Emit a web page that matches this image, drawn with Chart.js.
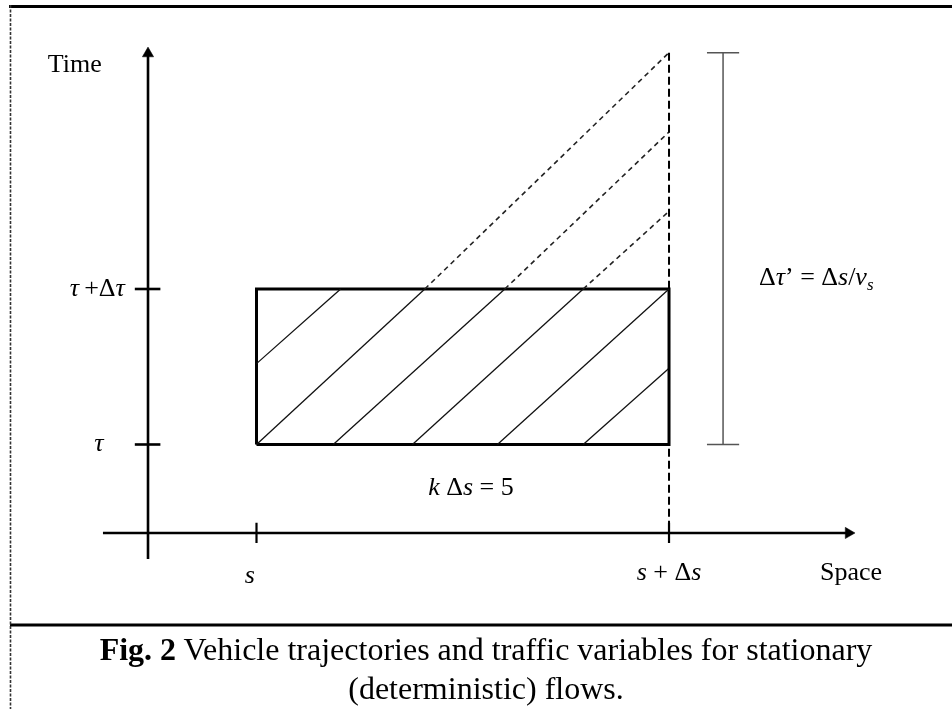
<!DOCTYPE html>
<html>
<head>
<meta charset="utf-8">
<script src="https://cdn.jsdelivr.net/npm/chart.js@4"></script>
<style>
  body { margin: 0; background: #fff; }
  #wrap { position: relative; width: 952px; height: 709px; overflow: hidden; }
  #chart { position: absolute; left: 0; top: 0; }
  .caption {
    position: absolute; left: 10px; width: 952px; text-align: center;
    font-family: 'Liberation Serif', 'Times New Roman', serif; font-size: 32px; line-height: 34px; color: #000;
    white-space: nowrap;
  }
</style>
</head>
<body>
<div id="wrap">
  <canvas id="chart" width="952" height="709"></canvas>
  <div class="caption" style="top: 632px;"><b>Fig. 2</b> Vehicle trajectories and traffic variables for stationary</div>
  <div class="caption" style="top: 671px;">(deterministic) flows.</div>
</div>
<script>
// space in vehicle spacings measured from s, time in units of Δτ measured from τ
const spaceTicks = [0, 5];
const spaceTickLabels = ['s', 's + Δs'];
const timeTicks = [0, 1];
const timeTickLabels = ['τ', 'τ+Δτ'];

// vehicle trajectories inside the cell (solid)
const trajStartX = [0, 0, 0.93, 1.89, 2.92, 3.96];
const trajStartT = [0.52, 0, 0, 0, 0, 0];
const trajEndX = [1.02, 2.04, 3.01, 3.96, 5, 5];
const trajEndT = [1, 1, 1, 1, 1, 0.49];

// continuation after the cell (dashed)
const ghostStartX = [2.04, 3.01, 3.96];
const ghostEndT = [2.52, 2.01, 1.5];

const travelTime = 2.52; // Δτ' = Δs / v_s

// frame of the drawing in data units
const xRange = [-3.109, 8.43];
const tRange = [-1.701, 2.8585];
const yAxisAt = -1.315;
const xAxisAt = -0.569;
const barAt = 5.655;

function seg(x1, y1, x2, y2) {
  return [{ x: x1, y: y1 }, { x: x2, y: y2 }];
}

function line(data, opts) {
  return Object.assign({
    data: data, showLine: true, pointRadius: 0, borderColor: '#000',
    borderWidth: 1.2, fill: false, tension: 0
  }, opts || {});
}

const datasets = [];

// axes with arrowheads
datasets.push(line(seg(yAxisAt, -0.736, yAxisAt, 2.514), {
  borderWidth: 2.6, pointRadius: [0, 6.5], pointStyle: 'triangle', rotation: 0,
  pointBackgroundColor: '#000', pointBorderColor: '#000', pointBorderWidth: 0.5
}));
datasets.push(line(seg(-1.861, xAxisAt, 7.176, xAxisAt), {
  borderWidth: 2.6, pointRadius: [0, 6.5], pointStyle: 'triangle', rotation: 90,
  pointBackgroundColor: '#000', pointBorderColor: '#000', pointBorderWidth: 0.5
}));

// ticks
timeTicks.forEach(t => datasets.push(line(seg(yAxisAt - 0.16, t, yAxisAt + 0.15, t), { borderWidth: 2.6 })));
spaceTicks.forEach(x => datasets.push(line(seg(x, xAxisAt + 0.065, x, xAxisAt - 0.065), { borderWidth: 2.2 })));

// dashed vertical at s + Δs
datasets.push(line(seg(spaceTicks[1], travelTime, spaceTicks[1], -0.627), {
  borderWidth: 2, borderDash: [8, 4]
}));

// dashed continuations
ghostStartX.forEach((x, i) => datasets.push(line(seg(x, timeTicks[1], spaceTicks[1], ghostEndT[i]), {
  borderWidth: 1.6, borderDash: [5, 4], borderColor: '#222'
})));

// trajectories inside the cell
trajStartX.forEach((x, i) => datasets.push(line(seg(x, trajStartT[i], trajEndX[i], trajEndT[i]), {
  borderWidth: 1.3, borderColor: '#111'
})));

// the space-time cell
datasets.push(line([
  { x: spaceTicks[0], y: timeTicks[0] }, { x: spaceTicks[1], y: timeTicks[0] },
  { x: spaceTicks[1], y: timeTicks[1] }, { x: spaceTicks[0], y: timeTicks[1] },
  { x: spaceTicks[0], y: timeTicks[0] }
], { borderWidth: 3, borderJoinStyle: 'miter' }));

// Δτ' bar
datasets.push(line(seg(barAt, 0, barAt, travelTime), { borderWidth: 1.5, borderColor: '#555' }));
datasets.push(line(seg(barAt - 0.195, 0, barAt + 0.195, 0), { borderWidth: 1.5, borderColor: '#555' }));
datasets.push(line(seg(barAt - 0.195, travelTime, barAt + 0.195, travelTime), { borderWidth: 1.5, borderColor: '#555' }));

const FONT = "'Liberation Serif', 'Times New Roman', serif";

function drawRuns(ctx, runs, px, py, align) {
  const fontOf = r => (r[1] === 'i' ? 'italic ' : '') + (r[1] === 'sub' ? 'italic 17px ' : '26px ') + FONT;
  let total = 0;
  runs.forEach(r => { ctx.font = fontOf(r); total += ctx.measureText(r[0]).width; });
  let x = align === 'center' ? px - total / 2 : align === 'right' ? px - total : px;
  runs.forEach(r => {
    ctx.font = fontOf(r);
    ctx.fillText(r[0], x, r[1] === 'sub' ? py + 7 : py);
    x += ctx.measureText(r[0]).width;
  });
}

const labels = [
  { runs: [['Time', 'n']], x: -2.53, t: 2.44, align: 'left' },
  { runs: [['τ', 'i'], ['\u2009+Δ', 'n'], ['τ', 'i']], x: -1.93, t: timeTicks[1], align: 'center' },
  { runs: [['τ', 'i']], x: -1.91, t: timeTicks[0], align: 'center' },
  { runs: [['s', 'i']], x: spaceTicks[0] - 0.08, t: -0.85, align: 'center' },
  { runs: [['s', 'i'], [' + Δ', 'n'], ['s', 'i']], x: spaceTicks[1], t: -0.83, align: 'center' },
  { runs: [['Space', 'n']], x: 6.83, t: -0.83, align: 'left' },
  { runs: [['k', 'i'], [' Δ', 'n'], ['s', 'i'], [' = 5', 'n']], x: 2.6, t: -0.28, align: 'center' },
  { runs: [['Δ', 'n'], ['τ', 'i'], ['’ = Δ', 'n'], ['s', 'i'], ['/', 'n'], ['v', 'i'], ['s', 'sub']], x: 6.09, t: 1.07, align: 'left' }
];

const annotate = {
  id: 'annotate',
  afterDatasetsDraw(chart) {
    const ctx = chart.ctx;
    const sx = chart.scales.x, sy = chart.scales.y;
    ctx.save();
    // frame
    ctx.strokeStyle = '#000';
    ctx.lineWidth = 3.2;
    ctx.beginPath();
    ctx.moveTo(9, 6.5); ctx.lineTo(952, 6.5);
    ctx.moveTo(10, 625); ctx.lineTo(952, 625);
    ctx.stroke();
    ctx.lineWidth = 1.6;
    ctx.strokeStyle = '#333';
    ctx.setLineDash([3, 1.5]);
    ctx.beginPath();
    ctx.moveTo(10.5, 5); ctx.lineTo(10.5, 709);
    ctx.stroke();
    ctx.setLineDash([]);
    // text
    ctx.fillStyle = '#000';
    ctx.textBaseline = 'middle';
    labels.forEach(l => drawRuns(ctx, l.runs, sx.getPixelForValue(l.x), sy.getPixelForValue(l.t), l.align));
    ctx.restore();
  }
};

new Chart(document.getElementById('chart'), {
  type: 'scatter',
  data: { datasets: datasets },
  options: {
    responsive: false,
    animation: false,
    devicePixelRatio: 1,
    layout: { padding: 0, autoPadding: false },
    plugins: { legend: { display: false }, tooltip: { enabled: false } },
    scales: {
      x: { type: 'linear', min: xRange[0], max: xRange[1], display: false },
      y: { type: 'linear', min: tRange[0], max: tRange[1], display: false }
    }
  },
  plugins: [annotate]
});
</script>
</body>
</html>
